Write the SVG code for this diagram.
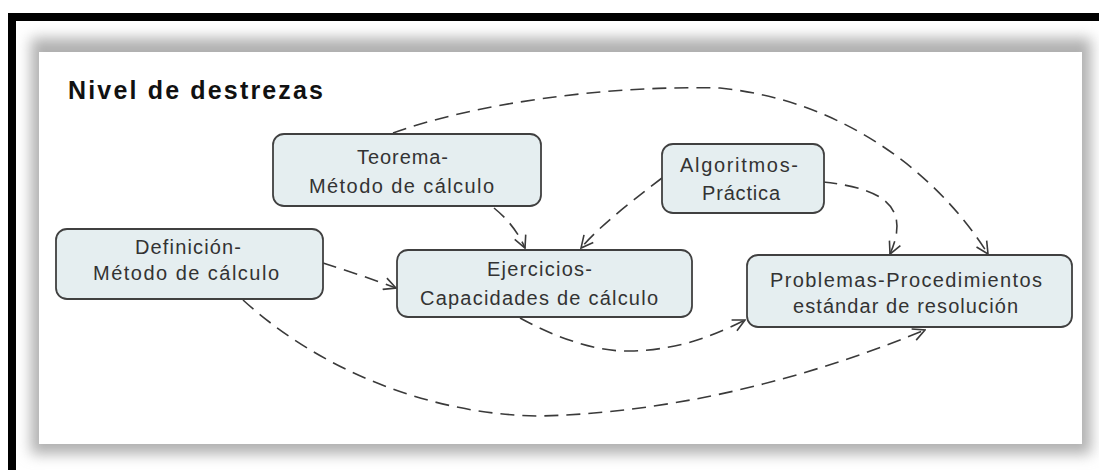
<svg xmlns="http://www.w3.org/2000/svg" width="1099" height="470" viewBox="0 0 1099 470">
  <defs>
    <filter id="sh" x="-5%" y="-10%" width="110%" height="120%">
      <feGaussianBlur stdDeviation="7"/>
    </filter>
    <marker id="ah" viewBox="0 0 14 14" refX="13" refY="7" markerWidth="14" markerHeight="14" markerUnits="userSpaceOnUse" orient="auto">
      <path d="M1,1 L13,7 L1,13" fill="none" stroke="#3a3a3a" stroke-width="1.6"/>
    </marker>
  </defs>
  <style>
    .box { fill: #e5eef0; stroke: #404040; stroke-width: 1.8; }
    .lbl { font-family: "Liberation Sans", Arial, sans-serif; font-size: 20px; fill: #333333; }
    .title { font-family: "Liberation Sans", Arial, sans-serif; font-size: 25px; font-weight: bold; fill: #111111; }
    .con { fill: none; stroke: #3a3a3a; stroke-width: 1.6; stroke-dasharray: 14 8; marker-end: url(#ah); }
  </style>

  <rect x="0" y="0" width="1099" height="470" fill="#ffffff"/>
  <!-- frame -->
  <rect x="8" y="13" width="1091" height="8" fill="#000000"/>
  <rect x="8" y="13" width="8" height="457" fill="#000000"/>
  <!-- panel shadow -->
  <rect x="31" y="38" width="1060" height="416" fill="#b0b0b0" filter="url(#sh)"/>
  <rect x="39" y="52" width="1043" height="392" fill="#ffffff"/>

  <text class="title" x="68" y="99" textLength="255">Nivel de destrezas</text>

  <g id="connectors">
    <path class="con" d="M393,133 C470,105 600,85 720,88 C840,100 935,170 988,254"/>
    <path class="con" d="M823,182 C880,188 912,205 890,254"/>
    <path class="con" d="M494,208 Q515,225 525,248"/>
    <path class="con" d="M662,178 C640,195 600,225 581,248"/>
    <path class="con" d="M323,263 C345,270 375,280 396,288"/>
    <path class="con" d="M520,318 C560,340 600,352 630,351 C680,350 715,335 745,320"/>
    <path class="con" d="M243,300 C320,370 430,415 540,416 C700,412 840,365 925,330"/>
  </g>

  <g id="teorema">
    <rect class="box" x="273" y="134" width="268" height="72" rx="11"/>
    <text class="lbl" x="357" y="164" textLength="91">Teorema-</text>
    <text class="lbl" x="309" y="193" textLength="185">Método de cálculo</text>
  </g>
  <g id="definicion">
    <rect class="box" x="56" y="229" width="267" height="70" rx="11"/>
    <text class="lbl" x="135" y="254" textLength="106">Definición-</text>
    <text class="lbl" x="93" y="280" textLength="186">Método de cálculo</text>
  </g>
  <g id="ejercicios">
    <rect class="box" x="397" y="250" width="295" height="67" rx="11"/>
    <text class="lbl" x="487" y="276" textLength="105">Ejercicios-</text>
    <text class="lbl" x="420" y="305" textLength="238">Capacidades de cálculo</text>
  </g>
  <g id="algoritmos">
    <rect class="box" x="662" y="144" width="162" height="69" rx="11"/>
    <text class="lbl" x="680" y="172" textLength="118">Algoritmos-</text>
    <text class="lbl" x="702" y="200" textLength="78">Práctica</text>
  </g>
  <g id="problemas">
    <rect class="box" x="747" y="255" width="325" height="72" rx="11"/>
    <text class="lbl" x="770" y="287" textLength="272">Problemas-Procedimientos</text>
    <text class="lbl" x="793" y="313" textLength="225">estándar de resolución</text>
  </g>
</svg>
